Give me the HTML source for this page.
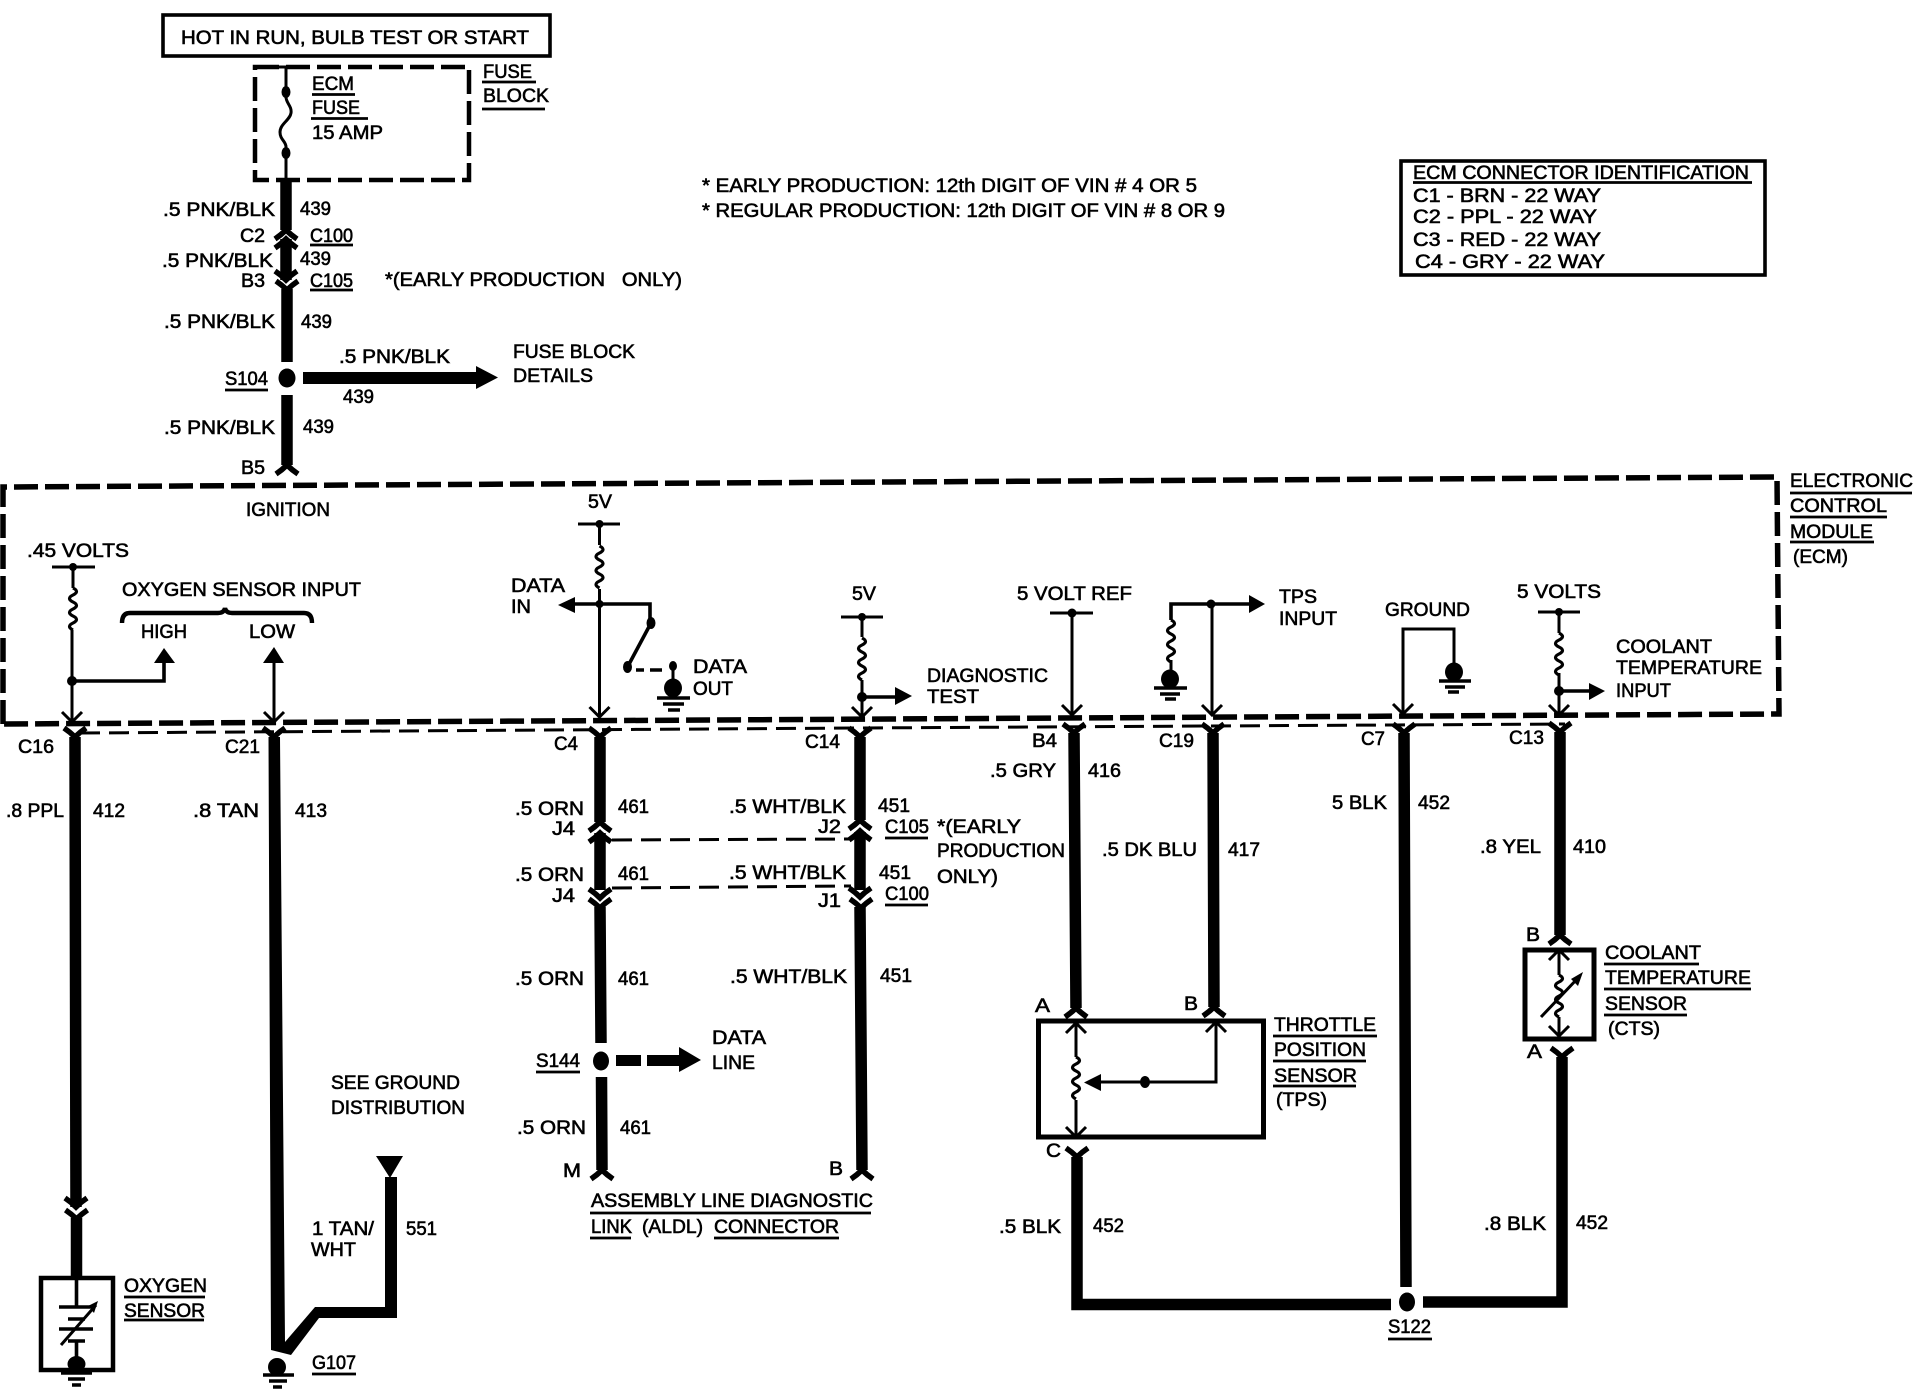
<!DOCTYPE html>
<html><head><meta charset="utf-8"><style>
html,body{margin:0;padding:0;background:#fff}
svg{display:block}
text{font-family:"Liberation Sans",sans-serif;font-size:19px;fill:#000;stroke:#000;stroke-width:.6px}
.w{stroke:#000;stroke-width:11.5;fill:none}
.t{stroke:#000;stroke-width:3;fill:none}
.u{stroke:#000;stroke-width:2.8;fill:none}
.m{stroke:#000;stroke-width:3.6;fill:none}
.b{stroke:#000;stroke-width:5;fill:none}
</style></head><body>
<svg xmlns="http://www.w3.org/2000/svg" width="1914" height="1392" viewBox="0 0 1914 1392">
<defs>
<path id="fd" d="M-11,9 Q-5,5 0,0 Q5,5 11,9" fill="none" stroke="#000" stroke-width="5.5"/>
<path id="fu" d="M-11,-9 Q-5,-5 0,0 Q5,-5 11,-9" fill="none" stroke="#000" stroke-width="5.5"/>
<path id="r" d="M0,0 Q7,3.5 0,7 Q-7,10.5 0,14 Q7,17.5 0,21 Q-7,24.5 0,28 Q7,31.5 0,35 Q-7,38.5 0,42" fill="none" stroke="#000" stroke-width="3.2"/>
<path id="vd" d="M-10,-10 L0,0 L10,-10" fill="none" stroke="#000" stroke-width="3"/>
<path id="vu" d="M-10,10 L0,0 L10,10" fill="none" stroke="#000" stroke-width="3"/>
</defs>

<!-- top box and fuse -->
<rect x="163" y="15" width="387" height="41" class="m"/>
<rect x="255" y="67" width="214" height="113" stroke="#000" stroke-width="4.5" fill="none" stroke-dasharray="24 7"/>
<path d="M286,67V97C286,103 292,106 291,113C290,120 280,124 280,132C280,140 286,141 286,147V180" class="t"/>
<path d="M278,67H294" class="t"/>
<ellipse cx="286" cy="92" rx="4.5" ry="6"/><ellipse cx="286" cy="153" rx="4.5" ry="6"/>

<!-- top wire -->
<path d="M286,180V230M286,239V280M287,289V362M287,395V465" class="w"/>
<use href="#fd" x="286" y="230"/><use href="#fd" x="286" y="239"/>
<use href="#fu" x="286" y="280"/><use href="#fu" x="287" y="290"/>
<use href="#fd" x="287" y="465"/>
<ellipse cx="287" cy="378" rx="8.5" ry="9.5"/>
<path d="M303,372H476V366L498,377.5L476,389V384H303Z"/>

<!-- ECM dashed -->
<path d="M3,724V487L1777,477L1779,714Z" stroke="#000" stroke-width="5.5" fill="none" stroke-dasharray="24 7"/>
<path d="M80,733L857,728L1565,724" stroke="#000" stroke-width="3" fill="none" stroke-dasharray="20 9"/>
<path d="M612,840L851,839M612,888L851,886" stroke="#000" stroke-width="3" fill="none" stroke-dasharray="20 9"/>

<!-- oxygen sensor wire -->
<path d="M75,737L76,1207M76.5,1218V1277" class="w"/>
<use href="#fu" x="75" y="737"/><use href="#fu" x="76" y="1207"/><use href="#fu" x="76.5" y="1219"/>
<rect x="41" y="1278" width="72" height="92" stroke="#000" stroke-width="4.5" fill="none"/>
<path d="M76.5,1278V1306M76.5,1341V1362M59,1307H90M68,1319H85M59,1329H93M68,1341H85" class="m"/>
<path d="M61,1345L96,1305" class="t"/>
<path d="M98,1301L88,1306L94,1313Z"/>
<ellipse cx="76.5" cy="1364" rx="9" ry="8"/>
<path d="M61,1373H92M68,1379H85M72,1385H81" class="m"/>

<!-- C21 wire -->
<path d="M268.5,737H280L285,1342L315,1307H385V1177H397V1318H319L291,1355L271,1350Z"/>
<use href="#fu" x="274" y="737"/>
<path d="M376,1156H403L390,1178Z"/>
<ellipse cx="277" cy="1367" rx="9" ry="9"/>
<path d="M263,1375H294M269,1381H287M273,1387H282" class="m"/>

<!-- C4 wire -->
<path d="M600,737V822M600,833V890M600,907L601,1043M601.5,1077L602,1170" class="w"/>
<use href="#fu" x="600" y="737"/><use href="#fd" x="600" y="822"/><use href="#fd" x="600" y="833"/>
<use href="#fu" x="600" y="898"/><use href="#fu" x="600" y="908"/><use href="#fd" x="602" y="1170"/>
<ellipse cx="601" cy="1061" rx="8" ry="9.5"/>
<rect x="616" y="1055" width="25" height="11"/>
<path d="M647,1055H679V1047L701,1060L679,1072V1066H647Z"/>

<!-- C14 wire -->
<path d="M860,737V820M860,832V890M860,907L862,1170" class="w"/>
<use href="#fu" x="860" y="737"/><use href="#fd" x="860" y="820"/><use href="#fd" x="860" y="831"/>
<use href="#fu" x="860" y="897"/><use href="#fu" x="861" y="908"/><use href="#fd" x="862" y="1170"/>

<!-- B4, C19, C7, C13 -->
<path d="M1074,733L1076,1008M1213,733L1214,1007M1404,733L1406,1287M1560,732V935" class="w"/>
<use href="#fu" x="1074" y="733"/><use href="#fd" x="1076" y="1008"/>
<use href="#fu" x="1213" y="733"/><use href="#fd" x="1214" y="1007"/>
<use href="#fu" x="1404" y="733"/><use href="#fu" x="1560" y="732"/><use href="#fd" x="1560" y="935"/>

<!-- TPS -->
<rect x="1038.5" y="1021" width="225" height="116" class="b"/>
<path d="M1076,1022V1057M1076,1100V1137M1216,1022V1082H1100" class="t"/>
<use href="#r" x="1076" y="1057"/>
<use href="#vu" x="1076" y="1023"/><use href="#vd" x="1076" y="1137"/><use href="#vu" x="1216" y="1022"/>
<path d="M1084,1082.5L1101,1074V1091Z"/>
<ellipse cx="1145" cy="1082" rx="5" ry="6"/>
<use href="#fu" x="1077" y="1157"/>
<path d="M1077,1157V1304.5H1391M1423,1302H1562V1057" class="w"/>
<use href="#fu" x="1562" y="1057"/>
<ellipse cx="1407" cy="1302" rx="8" ry="9.5"/>

<!-- CTS -->
<rect x="1525" y="950" width="69" height="89" class="b"/>
<path d="M1559,950V975M1559,1017V1036M1541,1017L1578,978" class="t"/>
<use href="#r" x="1559" y="975"/>
<use href="#vu" x="1559" y="950"/><use href="#vd" x="1559" y="1036"/>
<path d="M1583,972L1571,979L1578,986Z"/>

<!-- .45 volts -->
<path d="M52,567H95M73,567V588M72,630V720" class="t"/>
<circle cx="73" cy="567" r="4"/><circle cx="72" cy="681" r="5"/><use href="#r" x="73" y="588"/>
<use href="#vd" x="72" y="722"/>
<path d="M72,681H164V660" class="m"/>
<path d="M164,648L175,663H154Z"/>
<path d="M274,660V722" class="t"/>
<path d="M274,647L284,663H263Z"/>
<use href="#vd" x="274" y="722"/>
<path d="M122,623Q122,613 130,613H218Q224,613 225,608Q226,613 232,613H304Q312,613 312,623" stroke="#000" stroke-width="4.4" fill="none"/>

<!-- data -->
<path d="M578,524H620M599.5,524V545M599.5,589V717" class="t"/>
<circle cx="599.5" cy="524" r="4"/><circle cx="599.5" cy="604" r="4"/><use href="#r" x="599.5" y="546"/>
<use href="#vd" x="599.5" y="717"/>
<path d="M572,604H650V623" class="m"/>
<path d="M558,605L575,597V613Z"/>
<path d="M651,623L627.5,667" class="m"/>
<ellipse cx="651" cy="623" rx="4.5" ry="6"/><ellipse cx="627.5" cy="667" rx="4.5" ry="6"/>
<path d="M636,670H644M650,670H662" class="m"/>
<ellipse cx="673" cy="666" rx="4" ry="5"/>
<path d="M673,666V685" class="t"/>
<ellipse cx="673" cy="688" rx="9" ry="9.5"/>
<path d="M657,698H690M663,704H684M668,710H680" class="m"/>

<!-- 5V diag -->
<path d="M841,617H883M862,617V637M862,680V717" class="t"/>
<circle cx="862" cy="617" r="4"/><circle cx="862" cy="697" r="5"/><use href="#r" x="862" y="638"/>
<path d="M862,697H897" class="m"/><path d="M912,696L895,687V705Z"/>
<use href="#vd" x="862" y="717"/>

<!-- 5 volt ref -->
<path d="M1050,613H1093M1072,613V715" class="t"/><circle cx="1072" cy="613" r="4.5"/>
<use href="#vd" x="1072" y="715"/>

<!-- TPS input -->
<path d="M1171,620V604H1251" class="m"/>
<path d="M1265,604L1249,595V613Z"/>
<circle cx="1211" cy="604" r="4.5"/>
<path d="M1212,604V715M1171,660V673" class="t"/>
<use href="#r" x="1171" y="620"/>
<use href="#vd" x="1212" y="715"/>
<ellipse cx="1170" cy="679" rx="9" ry="9.5"/>
<path d="M1154,688H1187M1160,694H1180M1165,699H1176" class="m"/>

<!-- ground -->
<path d="M1403,714V629H1454V667" class="t"/>
<use href="#vd" x="1403" y="714"/>
<ellipse cx="1454" cy="672" rx="9" ry="9.5"/>
<path d="M1439,681H1471M1445,687H1465M1448,692H1459" class="m"/>

<!-- 5 volts -->
<path d="M1538,612H1580M1559,612V633M1559,673V715" class="t"/>
<circle cx="1559" cy="612" r="4"/><circle cx="1559" cy="691" r="5"/><use href="#r" x="1559" y="633"/>
<path d="M1559,691H1591" class="m"/><path d="M1605,691L1589,683V700Z"/>
<use href="#vd" x="1559" y="715"/>

<!-- underlines -->
<path class="u" d="M312,94.5H355M311,118.5H368M482,82H536M482,109H545M310,245H353M310,290H353M225,390H268M1413,182.5H1752M124,1297H205M124,1320H204M312,1374H356M536,1072H580M590,1213H871M590,1238H631M714,1238H839M885,838H928M885,905H928M1790,493H1912M1790,517H1887M1790,542H1874M1388,1339H1432M1604,964H1699M1604,989H1751M1604,1015H1687M1273,1036H1377M1273,1061H1366M1273,1086H1356"/>
<rect x="1401" y="161" width="364" height="114" class="m"/>

<!-- text -->
<text x="181" y="44" textLength="348" lengthAdjust="spacingAndGlyphs">HOT IN RUN, BULB TEST OR START</text>
<text x="312" y="90" textLength="42" lengthAdjust="spacingAndGlyphs">ECM</text>
<text x="312" y="114" textLength="48" lengthAdjust="spacingAndGlyphs">FUSE</text>
<text x="312" y="139" textLength="71" lengthAdjust="spacingAndGlyphs">15 AMP</text>
<text x="483" y="78" textLength="49" lengthAdjust="spacingAndGlyphs">FUSE</text>
<text x="483" y="102" textLength="66" lengthAdjust="spacingAndGlyphs">BLOCK</text>
<text x="163" y="216" textLength="112" lengthAdjust="spacingAndGlyphs">.5 PNK/BLK</text>
<text x="300" y="215" textLength="31" lengthAdjust="spacingAndGlyphs">439</text>
<text x="240" y="242" textLength="25" lengthAdjust="spacingAndGlyphs">C2</text>
<text x="310" y="242" textLength="43" lengthAdjust="spacingAndGlyphs">C100</text>
<text x="162" y="267" textLength="111" lengthAdjust="spacingAndGlyphs">.5 PNK/BLK</text>
<text x="300" y="265" textLength="31" lengthAdjust="spacingAndGlyphs">439</text>
<text x="241" y="287" textLength="24" lengthAdjust="spacingAndGlyphs">B3</text>
<text x="310" y="287" textLength="43" lengthAdjust="spacingAndGlyphs">C105</text>
<text x="385" y="286" textLength="297" lengthAdjust="spacingAndGlyphs" xml:space="preserve">*(EARLY PRODUCTION   ONLY)</text>
<text x="164" y="328" textLength="111" lengthAdjust="spacingAndGlyphs">.5 PNK/BLK</text>
<text x="301" y="328" textLength="31" lengthAdjust="spacingAndGlyphs">439</text>
<text x="339" y="363" textLength="111" lengthAdjust="spacingAndGlyphs">.5 PNK/BLK</text>
<text x="343" y="403" textLength="31" lengthAdjust="spacingAndGlyphs">439</text>
<text x="225" y="385" textLength="43" lengthAdjust="spacingAndGlyphs">S104</text>
<text x="513" y="358" textLength="122" lengthAdjust="spacingAndGlyphs">FUSE BLOCK</text>
<text x="513" y="382" textLength="80" lengthAdjust="spacingAndGlyphs">DETAILS</text>
<text x="164" y="434" textLength="111" lengthAdjust="spacingAndGlyphs">.5 PNK/BLK</text>
<text x="303" y="433" textLength="31" lengthAdjust="spacingAndGlyphs">439</text>
<text x="241" y="474" textLength="24" lengthAdjust="spacingAndGlyphs">B5</text>

<text x="702" y="192" textLength="495" lengthAdjust="spacingAndGlyphs">* EARLY PRODUCTION:  12th DIGIT OF VIN # 4 OR 5</text>
<text x="702" y="217" textLength="523" lengthAdjust="spacingAndGlyphs">* REGULAR PRODUCTION:  12th DIGIT OF VIN # 8 OR 9</text>
<text x="1413" y="179" textLength="336" lengthAdjust="spacingAndGlyphs">ECM CONNECTOR IDENTIFICATION</text>
<text x="1413" y="202" textLength="188" lengthAdjust="spacingAndGlyphs">C1 - BRN - 22 WAY</text>
<text x="1413" y="223" textLength="184" lengthAdjust="spacingAndGlyphs">C2 - PPL - 22 WAY</text>
<text x="1413" y="246" textLength="188" lengthAdjust="spacingAndGlyphs">C3 - RED - 22 WAY</text>
<text x="1415" y="268" textLength="190" lengthAdjust="spacingAndGlyphs">C4 - GRY - 22 WAY</text>

<text x="246" y="516" textLength="84" lengthAdjust="spacingAndGlyphs">IGNITION</text>
<text x="27" y="557" textLength="102" lengthAdjust="spacingAndGlyphs">.45 VOLTS</text>
<text x="122" y="596" textLength="239" lengthAdjust="spacingAndGlyphs">OXYGEN SENSOR INPUT</text>
<text x="141" y="638" textLength="46" lengthAdjust="spacingAndGlyphs">HIGH</text>
<text x="249" y="638" textLength="46" lengthAdjust="spacingAndGlyphs">LOW</text>
<text x="588" y="508" textLength="24" lengthAdjust="spacingAndGlyphs">5V</text>
<text x="511" y="592" textLength="54" lengthAdjust="spacingAndGlyphs">DATA</text>
<text x="511" y="613" textLength="20" lengthAdjust="spacingAndGlyphs">IN</text>
<text x="693" y="673" textLength="54" lengthAdjust="spacingAndGlyphs">DATA</text>
<text x="693" y="695" textLength="40" lengthAdjust="spacingAndGlyphs">OUT</text>
<text x="852" y="600" textLength="24" lengthAdjust="spacingAndGlyphs">5V</text>
<text x="927" y="682" textLength="121" lengthAdjust="spacingAndGlyphs">DIAGNOSTIC</text>
<text x="927" y="703" textLength="52" lengthAdjust="spacingAndGlyphs">TEST</text>
<text x="1017" y="600" textLength="115" lengthAdjust="spacingAndGlyphs">5 VOLT REF</text>
<text x="1279" y="603" textLength="38" lengthAdjust="spacingAndGlyphs">TPS</text>
<text x="1279" y="625" textLength="58" lengthAdjust="spacingAndGlyphs">INPUT</text>
<text x="1385" y="616" textLength="85" lengthAdjust="spacingAndGlyphs">GROUND</text>
<text x="1517" y="598" textLength="84" lengthAdjust="spacingAndGlyphs">5 VOLTS</text>
<text x="1616" y="653" textLength="96" lengthAdjust="spacingAndGlyphs">COOLANT</text>
<text x="1616" y="674" textLength="146" lengthAdjust="spacingAndGlyphs">TEMPERATURE</text>
<text x="1616" y="697" textLength="55" lengthAdjust="spacingAndGlyphs">INPUT</text>
<text x="1790" y="487" textLength="123" lengthAdjust="spacingAndGlyphs">ELECTRONIC</text>
<text x="1790" y="512" textLength="97" lengthAdjust="spacingAndGlyphs">CONTROL</text>
<text x="1790" y="538" textLength="83" lengthAdjust="spacingAndGlyphs">MODULE</text>
<text x="1793" y="563" textLength="55" lengthAdjust="spacingAndGlyphs">(ECM)</text>

<text x="18" y="753" textLength="36" lengthAdjust="spacingAndGlyphs">C16</text>
<text x="225" y="753" textLength="35" lengthAdjust="spacingAndGlyphs">C21</text>
<text x="554" y="750" textLength="24" lengthAdjust="spacingAndGlyphs">C4</text>
<text x="805" y="748" textLength="35" lengthAdjust="spacingAndGlyphs">C14</text>
<text x="1032" y="747" textLength="25" lengthAdjust="spacingAndGlyphs">B4</text>
<text x="1159" y="747" textLength="35" lengthAdjust="spacingAndGlyphs">C19</text>
<text x="1361" y="745" textLength="24" lengthAdjust="spacingAndGlyphs">C7</text>
<text x="1509" y="744" textLength="35" lengthAdjust="spacingAndGlyphs">C13</text>

<text x="6" y="817" textLength="58" lengthAdjust="spacingAndGlyphs">.8 PPL</text>
<text x="93" y="817" textLength="32" lengthAdjust="spacingAndGlyphs">412</text>
<text x="193" y="817" textLength="66" lengthAdjust="spacingAndGlyphs">.8 TAN</text>
<text x="295" y="817" textLength="32" lengthAdjust="spacingAndGlyphs">413</text>
<text x="515" y="815" textLength="69" lengthAdjust="spacingAndGlyphs">.5 ORN</text>
<text x="618" y="813" textLength="31" lengthAdjust="spacingAndGlyphs">461</text>
<text x="552" y="835" textLength="23" lengthAdjust="spacingAndGlyphs">J4</text>
<text x="515" y="881" textLength="69" lengthAdjust="spacingAndGlyphs">.5 ORN</text>
<text x="618" y="880" textLength="31" lengthAdjust="spacingAndGlyphs">461</text>
<text x="552" y="902" textLength="23" lengthAdjust="spacingAndGlyphs">J4</text>
<text x="515" y="985" textLength="69" lengthAdjust="spacingAndGlyphs">.5 ORN</text>
<text x="618" y="985" textLength="31" lengthAdjust="spacingAndGlyphs">461</text>
<text x="517" y="1134" textLength="69" lengthAdjust="spacingAndGlyphs">.5 ORN</text>
<text x="620" y="1134" textLength="31" lengthAdjust="spacingAndGlyphs">461</text>
<text x="563" y="1177" textLength="18" lengthAdjust="spacingAndGlyphs">M</text>
<text x="829" y="1175" textLength="14" lengthAdjust="spacingAndGlyphs">B</text>
<text x="536" y="1067" textLength="44" lengthAdjust="spacingAndGlyphs">S144</text>
<text x="712" y="1044" textLength="54" lengthAdjust="spacingAndGlyphs">DATA</text>
<text x="712" y="1069" textLength="43" lengthAdjust="spacingAndGlyphs">LINE</text>
<text x="591" y="1207" textLength="282" lengthAdjust="spacingAndGlyphs">ASSEMBLY LINE DIAGNOSTIC</text>
<text x="591" y="1233" textLength="41" lengthAdjust="spacingAndGlyphs">LINK</text>
<text x="642" y="1233" textLength="61" lengthAdjust="spacingAndGlyphs">(ALDL)</text>
<text x="714" y="1233" textLength="125" lengthAdjust="spacingAndGlyphs">CONNECTOR</text>

<text x="729" y="813" textLength="117" lengthAdjust="spacingAndGlyphs">.5 WHT/BLK</text>
<text x="878" y="812" textLength="32" lengthAdjust="spacingAndGlyphs">451</text>
<text x="818" y="833" textLength="23" lengthAdjust="spacingAndGlyphs">J2</text>
<text x="885" y="833" textLength="44" lengthAdjust="spacingAndGlyphs">C105</text>
<text x="729" y="879" textLength="117" lengthAdjust="spacingAndGlyphs">.5 WHT/BLK</text>
<text x="879" y="879" textLength="32" lengthAdjust="spacingAndGlyphs">451</text>
<text x="818" y="907" textLength="23" lengthAdjust="spacingAndGlyphs">J1</text>
<text x="885" y="900" textLength="44" lengthAdjust="spacingAndGlyphs">C100</text>
<text x="730" y="983" textLength="117" lengthAdjust="spacingAndGlyphs">.5 WHT/BLK</text>
<text x="880" y="982" textLength="32" lengthAdjust="spacingAndGlyphs">451</text>
<text x="937" y="833" textLength="84" lengthAdjust="spacingAndGlyphs">*(EARLY</text>
<text x="937" y="857" textLength="128" lengthAdjust="spacingAndGlyphs">PRODUCTION</text>
<text x="937" y="883" textLength="61" lengthAdjust="spacingAndGlyphs">ONLY)</text>

<text x="990" y="777" textLength="66" lengthAdjust="spacingAndGlyphs">.5 GRY</text>
<text x="1088" y="777" textLength="33" lengthAdjust="spacingAndGlyphs">416</text>
<text x="1102" y="856" textLength="95" lengthAdjust="spacingAndGlyphs">.5 DK BLU</text>
<text x="1228" y="856" textLength="32" lengthAdjust="spacingAndGlyphs">417</text>
<text x="1332" y="809" textLength="55" lengthAdjust="spacingAndGlyphs">5 BLK</text>
<text x="1418" y="809" textLength="32" lengthAdjust="spacingAndGlyphs">452</text>
<text x="1480" y="853" textLength="61" lengthAdjust="spacingAndGlyphs">.8 YEL</text>
<text x="1573" y="853" textLength="33" lengthAdjust="spacingAndGlyphs">410</text>

<text x="1035" y="1012" textLength="15" lengthAdjust="spacingAndGlyphs">A</text>
<text x="1184" y="1010" textLength="14" lengthAdjust="spacingAndGlyphs">B</text>
<text x="1046" y="1157" textLength="15" lengthAdjust="spacingAndGlyphs">C</text>
<text x="1526" y="941" textLength="14" lengthAdjust="spacingAndGlyphs">B</text>
<text x="1527" y="1058" textLength="15" lengthAdjust="spacingAndGlyphs">A</text>
<text x="1274" y="1031" textLength="102" lengthAdjust="spacingAndGlyphs">THROTTLE</text>
<text x="1274" y="1056" textLength="92" lengthAdjust="spacingAndGlyphs">POSITION</text>
<text x="1274" y="1082" textLength="83" lengthAdjust="spacingAndGlyphs">SENSOR</text>
<text x="1276" y="1106" textLength="51" lengthAdjust="spacingAndGlyphs">(TPS)</text>
<text x="1605" y="959" textLength="96" lengthAdjust="spacingAndGlyphs">COOLANT</text>
<text x="1605" y="984" textLength="146" lengthAdjust="spacingAndGlyphs">TEMPERATURE</text>
<text x="1605" y="1010" textLength="82" lengthAdjust="spacingAndGlyphs">SENSOR</text>
<text x="1608" y="1035" textLength="52" lengthAdjust="spacingAndGlyphs">(CTS)</text>
<text x="999" y="1233" textLength="62" lengthAdjust="spacingAndGlyphs">.5 BLK</text>
<text x="1093" y="1232" textLength="31" lengthAdjust="spacingAndGlyphs">452</text>
<text x="1484" y="1230" textLength="62" lengthAdjust="spacingAndGlyphs">.8 BLK</text>
<text x="1576" y="1229" textLength="32" lengthAdjust="spacingAndGlyphs">452</text>
<text x="1388" y="1333" textLength="43" lengthAdjust="spacingAndGlyphs">S122</text>

<text x="124" y="1292" textLength="83" lengthAdjust="spacingAndGlyphs">OXYGEN</text>
<text x="124" y="1317" textLength="81" lengthAdjust="spacingAndGlyphs">SENSOR</text>
<text x="312" y="1369" textLength="44" lengthAdjust="spacingAndGlyphs">G107</text>
<text x="331" y="1089" textLength="129" lengthAdjust="spacingAndGlyphs">SEE GROUND</text>
<text x="331" y="1114" textLength="134" lengthAdjust="spacingAndGlyphs">DISTRIBUTION</text>
<text x="312" y="1235" textLength="62" lengthAdjust="spacingAndGlyphs">1 TAN/</text>
<text x="311" y="1256" textLength="45" lengthAdjust="spacingAndGlyphs">WHT</text>
<text x="406" y="1235" textLength="31" lengthAdjust="spacingAndGlyphs">551</text>
</svg>
</body></html>
